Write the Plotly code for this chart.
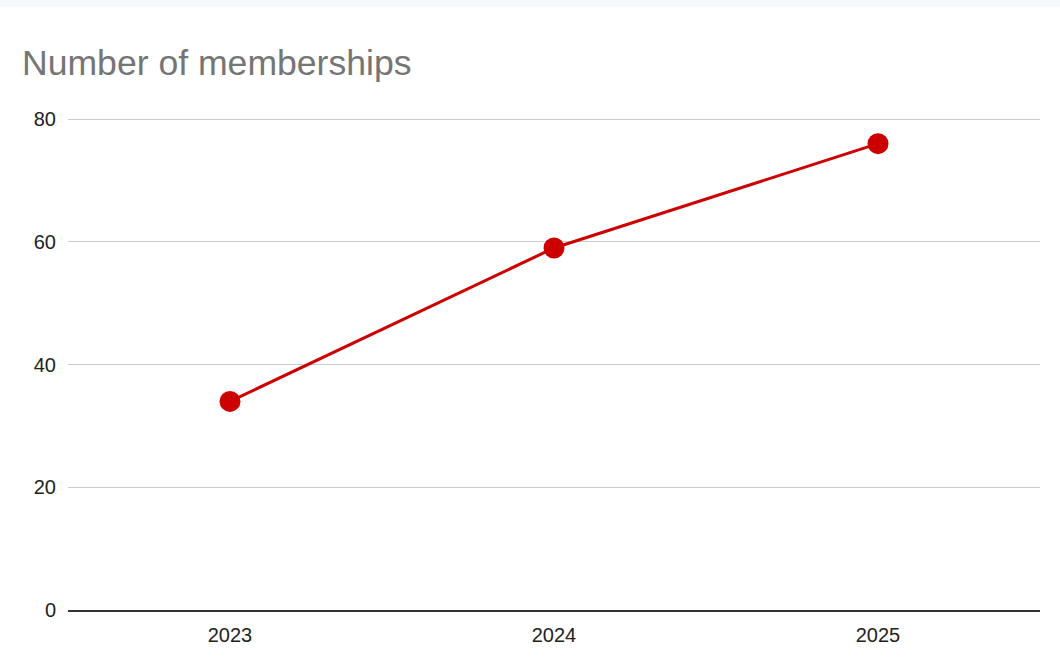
import plotly.graph_objects as go

years = ["2023", "2024", "2025"]
memberships = [34, 59, 76]
y_ticks = [0, 20, 40, 60, 80]

W, H = 1060, 670
L, R, T, B = 68, 20, 113, 60
FONT = "Arial, 'Liberation Sans', sans-serif"

fig = go.Figure()
fig.add_trace(go.Scatter(
    x=years, y=memberships, mode="lines+markers",
    line=dict(color="#cc0000", width=3),
    marker=dict(color="#cc0000", size=21),
    hoverinfo="x+y", cliponaxis=False,
))

fig.update_layout(
    width=W, height=H,
    margin=dict(l=L, r=R, t=T, b=B),
    paper_bgcolor="white", plot_bgcolor="white",
    showlegend=False,
    font=dict(family=FONT, color="#222222", size=20),
    title=dict(
        text="Number of memberships",
        font=dict(family=FONT, size=35.6, color="#757575"),
        xref="container", yref="container",
        x=22 / W, xanchor="left",
        y=1 - 63 / H, yanchor="middle",
    ),
    xaxis=dict(
        type="category", range=[-0.5, 2.5],
        showgrid=False, showline=True, linecolor="#333333", linewidth=1.5,
        ticks="", tickfont=dict(family=FONT, size=20, color="#222222"),
        ticklabelstandoff=6,
    ),
    yaxis=dict(
        range=[0, 81], tickvals=y_ticks, ticktext=[str(v) for v in y_ticks],
        showgrid=True, gridcolor="#cccccc", gridwidth=1,
        zeroline=False, showline=False,
        ticks="", tickfont=dict(family=FONT, size=20, color="#222222"),
        ticklabelstandoff=11,
    ),
    shapes=[dict(
        type="rect", xref="paper", yref="paper",
        x0=-L / (W - L - R), x1=1 + R / (W - L - R),
        y0=1 + (T - 7) / (H - T - B), y1=1 + T / (H - T - B),
        fillcolor="#f4f9fa", line=dict(width=0), layer="below",
    )],
)

fig.write_html(
    "out.html",
    config={"displayModeBar": False},
    post_script="document.body.style.margin='0';document.body.style.overflow='hidden';",
)
